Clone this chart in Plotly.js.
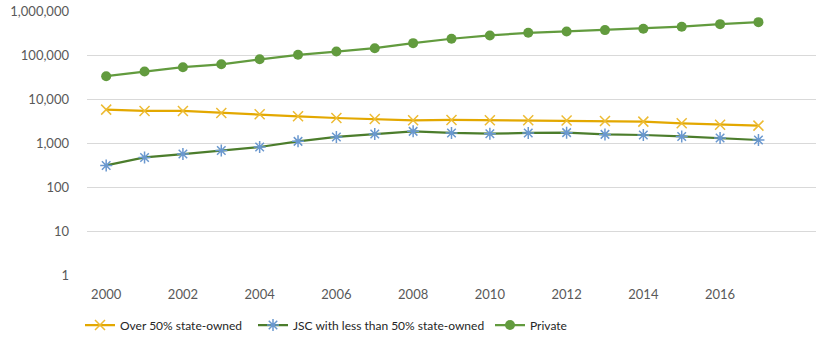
<!DOCTYPE html>
<html>
<head>
<meta charset="utf-8">
<script src="https://cdn.plot.ly/plotly-3.0.1.min.js"></script>
<style>
  html, body { margin: 0; padding: 0; background: #fff; }
  #chart { width: 816px; height: 342px; }
</style>
</head>
<body>
<div id="chart"></div>
<script>
// Number of enterprises by ownership type, 2000-2017 (log scale)
const years = [2000, 2001, 2002, 2003, 2004, 2005, 2006, 2007, 2008,
               2009, 2010, 2011, 2012, 2013, 2014, 2015, 2016, 2017];

const stateOwnedOver50 = [5740, 5350, 5350, 4820, 4490, 4040, 3700, 3520, 3280,
                          3340, 3280, 3280, 3260, 3170, 3060, 2800, 2610, 2480];

const jscUnder50 = [309, 470, 561, 678, 811, 1090, 1370, 1600, 1840,
                    1690, 1630, 1690, 1720, 1570, 1520, 1410, 1300, 1170];

const privateFirms = [32900, 42000, 52700, 61600, 80100, 101000, 120000, 143000, 186000,
                      234000, 278000, 320000, 343000, 368000, 395000, 439000, 503000, 558000];

const yTickVals = [1, 10, 100, 1000, 10000, 100000, 1000000];
const yTickText = ['1', '10', '100', '1,000', '10,000', '100,000', '1,000,000'];
const xTickVals = [2000, 2002, 2004, 2006, 2008, 2010, 2012, 2014, 2016];

const FONT = 'Lato, "Open Sans", sans-serif';

const traces = [
  {
    name: 'Over 50% state-owned',
    x: years, y: stateOwnedOver50,
    mode: 'lines+markers',
    line: { color: '#E3A800', width: 2.25 },
    marker: { symbol: 'x-thin-open', size: 10, color: '#EDBB33', line: { color: '#EDBB33', width: 1.5 } },
    legend: 'legend'
  },
  {
    name: 'JSC with less than 50% state-owned',
    x: years, y: jscUnder50,
    mode: 'lines+markers',
    line: { color: '#4C7D2C', width: 2.25 },
    marker: { symbol: 'asterisk-open', size: 10, color: '#6A98CF', line: { color: '#6A98CF', width: 1.5 } },
    legend: 'legend2'
  },
  {
    name: 'Private',
    x: years, y: privateFirms,
    mode: 'lines+markers',
    line: { color: '#629B3E', width: 2.25 },
    marker: { symbol: 'circle', size: 10, color: '#629B3E' },
    legend: 'legend3'
  }
];

const legendBase = {
  orientation: 'h',
  xref: 'paper', yref: 'container',
  xanchor: 'left', yanchor: 'middle',
  y: (342 - 325) / 342,
  font: { family: FONT, size: 12, color: '#262626' },
  bgcolor: 'rgba(0,0,0,0)',
  itemwidth: 30
};

const plotLeft = 87, plotWidth = 816 - 87;
const px = p => (p - plotLeft) / plotWidth;

const layout = {
  width: 816, height: 342,
  margin: { l: 87, r: 0, t: 11, b: 67 },
  paper_bgcolor: '#fff', plot_bgcolor: '#fff',
  showlegend: true,
  xaxis: {
    range: [1999.5, 2018.5],
    tickvals: xTickVals,
    ticktext: xTickVals.map(String),
    showgrid: false, zeroline: false,
    showline: false,
    ticks: '',
    ticklabelstandoff: 10,
    tickfont: { family: FONT, size: 13, color: '#595959' }
  },
  yaxis: {
    type: 'log',
    range: [0, 6],
    tickvals: yTickVals,
    ticktext: yTickText,
    showgrid: true, gridcolor: '#D9D9D9', gridwidth: 1,
    zeroline: false, showline: false, ticks: '',
    ticklabelstandoff: 17,
    tickfont: { family: FONT, size: 13, color: '#595959' }
  },
  shapes: [
    { type: 'line', xref: 'paper', yref: 'y', x0: 0, x1: 1, y0: 0, y1: 0,
      line: { color: '#D9D9D9', width: 2 }, layer: 'below' }
  ],
  legend:  Object.assign({}, legendBase, { x: px(80) }),
  legend2: Object.assign({}, legendBase, { x: px(253) }),
  legend3: Object.assign({}, legendBase, { x: px(490) })
};

Plotly.newPlot('chart', traces, layout, { displayModeBar: false, staticPlot: true });
</script>
</body>
</html>
